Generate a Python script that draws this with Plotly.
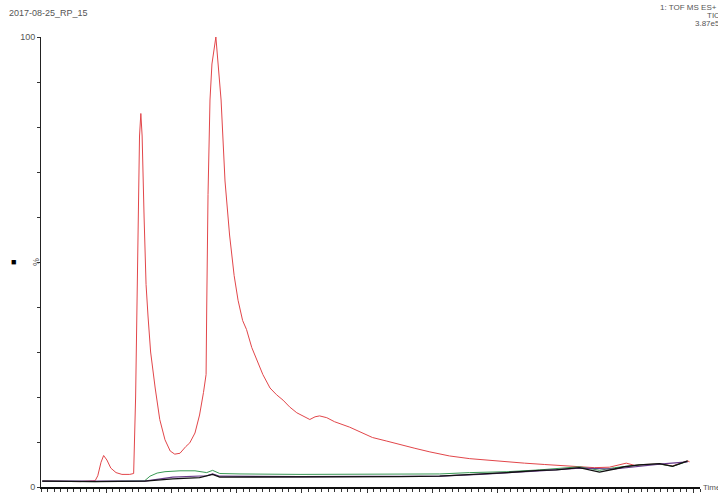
import plotly.graph_objects as go

# retention time (min) and relative intensity (%)
red_t = [0.02, 0.29, 0.60, 0.83, 0.87, 0.92, 0.96, 1.01, 1.07, 1.15, 1.24, 1.36, 1.42, 1.45, 1.48,
         1.51, 1.53, 1.55, 1.58, 1.61, 1.64, 1.68, 1.75, 1.82, 1.90, 1.98, 2.05, 2.13, 2.22, 2.28,
         2.36, 2.43, 2.49, 2.53, 2.54, 2.56, 2.59, 2.62, 2.68, 2.71, 2.76, 2.82, 2.89, 2.96, 3.02,
         3.09, 3.15, 3.23, 3.31, 3.40, 3.51, 3.61, 3.71, 3.81, 3.92, 4.04, 4.12, 4.20, 4.27, 4.38,
         4.50, 4.73, 4.92, 5.08, 5.30, 5.50, 5.73, 5.96, 6.26, 6.57, 6.88, 7.14, 7.41, 7.72, 7.95,
         8.15, 8.33, 8.48, 8.71, 8.87, 8.97, 9.10, 9.25, 9.48, 9.68, 9.79, 9.91, 9.94]
red_y = [1.3, 1.3, 1.2, 1.4, 2.5, 5.5, 7.0, 6.0, 4.2, 3.2, 2.8, 2.8, 3.0, 20, 55,
         78, 83, 78, 60, 45, 38, 30, 22, 15, 10.5, 8.0, 7.3, 7.5, 9.0, 9.8,
         12, 16, 21, 25, 40, 65, 86, 94, 100, 95, 86, 68, 56, 47, 41.5,
         37, 35, 31, 28, 25, 22, 20.5, 19.3, 17.8, 16.5, 15.6, 15.0, 15.6, 15.8, 15.4,
         14.5, 13.3, 12, 11, 10.2, 9.4, 8.6, 7.8, 6.9, 6.3, 5.9, 5.7, 5.3, 5.0, 4.8,
         4.6, 4.4, 4.3, 4.4, 4.9, 5.3, 4.8, 5.0, 5.1, 4.7, 5.2, 5.8, 5.6]

green_t = [0.02, 0.83, 1.59, 1.67, 1.78, 1.90, 2.13, 2.36, 2.54, 2.63, 2.74, 3.05, 3.97, 4.73,
           5.50, 6.11, 6.57, 7.14, 7.64, 7.90, 8.25, 8.45, 8.56, 8.79, 8.94, 9.17, 9.48, 9.68, 9.91]
green_y = [1.3, 1.2, 1.4, 2.4, 3.1, 3.4, 3.6, 3.6, 3.2, 3.7, 3.0, 2.9, 2.8, 2.8,
           2.9, 2.9, 3.2, 3.4, 3.8, 4.1, 4.5, 4.0, 3.7, 4.3, 4.6, 4.9, 5.1, 4.6, 5.7]

purple_t = [0.02, 1.59, 2.02, 2.54, 2.63, 2.74, 3.97, 5.50, 6.11, 6.72, 7.14, 7.64, 8.25, 8.79, 9.48, 9.91]
purple_y = [1.3, 1.3, 2.2, 2.5, 2.9, 2.4, 2.3, 2.3, 2.4, 2.8, 3.1, 3.6, 4.2, 4.0, 5.1, 5.6]

black_t = [0.02, 0.83, 1.59, 2.02, 2.43, 2.63, 2.74, 3.97, 5.50, 6.11, 6.72, 7.14, 7.64, 7.90,
           8.25, 8.45, 8.56, 8.79, 8.94, 9.17, 9.48, 9.68, 9.91]
black_y = [1.3, 1.2, 1.3, 1.8, 2.1, 2.8, 2.2, 2.2, 2.3, 2.4, 2.8, 3.2, 3.7, 3.8,
           4.3, 3.6, 3.3, 4.0, 4.5, 4.9, 5.2, 4.6, 5.8]

x_ticks = [1, 2, 3, 4, 5, 6, 7, 8, 9, 10]
y_ticks = [0, 10, 20, 30, 40, 50, 60, 70, 80, 90, 100]
y_labels = ["0", "", "", "", "", "", "", "", "", "", "100"]

fig = go.Figure()
fig.add_trace(go.Scatter(x=red_t, y=red_y, mode="lines", line=dict(color="#e2464a", width=1)))
fig.add_trace(go.Scatter(x=green_t, y=green_y, mode="lines", line=dict(color="#3a9a55", width=1)))
fig.add_trace(go.Scatter(x=purple_t, y=purple_y, mode="lines", line=dict(color="#6a3c8c", width=1.2)))
fig.add_trace(go.Scatter(x=black_t, y=black_y, mode="lines", line=dict(color="#111111", width=1.3)))

grey = "#555555"
fig.update_layout(
    width=718, height=497,
    margin=dict(l=41, r=18, t=37, b=10, autoexpand=False),
    plot_bgcolor="white", paper_bgcolor="white",
    showlegend=False,
    font=dict(family="Liberation Sans, Arial, sans-serif", size=9, color=grey),
    xaxis=dict(range=[0, 10.1], showgrid=False, zeroline=False, automargin=False,
               showline=True, linecolor="#111111", linewidth=2,
               tickvals=x_ticks, tickformat=".2f", ticks="outside", ticklen=4,
               tickcolor="#333333", tickfont=dict(size=10, color=grey),
               minor=dict(dtick=0.1, ticks="outside", ticklen=2.5, tickcolor="#333333")),
    yaxis=dict(range=[0, 100], showgrid=False, zeroline=False, automargin=False,
               showline=True, linecolor="#222222", linewidth=1,
               tickvals=y_ticks, ticktext=y_labels, ticks="outside", ticklen=3,
               tickcolor="#333333", tickfont=dict(size=9, color=grey)),
)

ann = dict(xref="paper", yref="paper", showarrow=False, font=dict(size=9, color=grey))
fig.add_annotation(ann, x=0, y=1, xanchor="left", yanchor="middle", xshift=-34, yshift=24,
                   text="2017-08-25_RP_15")
small = dict(size=8, color=grey)
fig.add_annotation(ann, x=1, y=1, xanchor="right", yanchor="middle", xshift=19, yshift=30,
                   text="1: TOF MS ES+", font=small)
fig.add_annotation(ann, x=1, y=1, xanchor="right", yanchor="middle", xshift=22, yshift=22,
                   text="TIC", font=small)
fig.add_annotation(ann, x=1, y=1, xanchor="right", yanchor="middle", xshift=22, yshift=14,
                   text="3.87e5", font=small)
fig.add_annotation(ann, x=0, y=0.5, xanchor="center", yanchor="middle", xshift=-5,
                   text="%", textangle=-90)
fig.add_annotation(ann, x=0, y=0.5, xanchor="center", yanchor="middle", xshift=-28,
                   text="■", font=dict(size=9, color="#000000"))
fig.add_annotation(ann, x=1, y=0, xanchor="left", yanchor="middle", xshift=1,
                   text="Time", font=small)

fig.write_html("out.html", config={"displayModeBar": False},
               post_script="document.body.style.margin='0px';")
